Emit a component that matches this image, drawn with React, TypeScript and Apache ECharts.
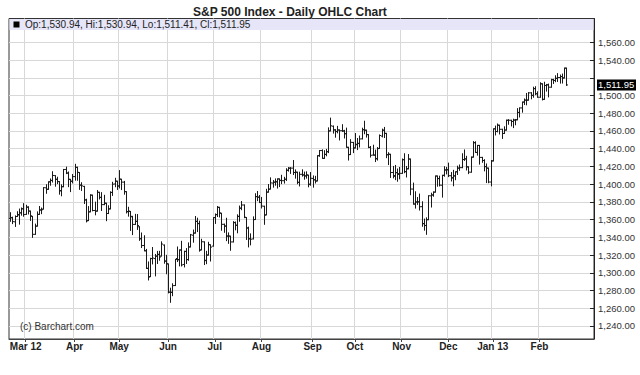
import React, { useEffect, useRef } from "react";
import * as echarts from "echarts";

// ---- data ----
const monthDays: [string, number[]][] = [
  ["2012-02", [21, 22, 23, 24, 27, 28, 29]],
  ["2012-03", [1, 2, 5, 6, 7, 8, 9, 12, 13, 14, 15, 16, 19, 20, 21, 22, 23, 26, 27, 28, 29, 30]],
  ["2012-04", [2, 3, 4, 5, 9, 10, 11, 12, 13, 16, 17, 18, 19, 20, 23, 24, 25, 26, 27, 30]],
  ["2012-05", [1, 2, 3, 4, 7, 8, 9, 10, 11, 14, 15, 16, 17, 18, 21, 22, 23, 24, 25, 29, 30, 31]],
  ["2012-06", [1, 4, 5, 6, 7, 8, 11, 12, 13, 14, 15, 18, 19, 20, 21, 22, 25, 26, 27, 28, 29]],
  ["2012-07", [2, 3, 5, 6, 9, 10, 11, 12, 13, 16, 17, 18, 19, 20, 23, 24, 25, 26, 27, 30, 31]],
  ["2012-08", [1, 2, 3, 6, 7, 8, 9, 10, 13, 14, 15, 16, 17, 20, 21, 22, 23, 24, 27, 28, 29, 30, 31]],
  ["2012-09", [4, 5, 6, 7, 10, 11, 12, 13, 14, 17, 18, 19, 20, 21, 24, 25, 26, 27, 28]],
  ["2012-10", [1, 2, 3, 4, 5, 8, 9, 10, 11, 12, 15, 16, 17, 18, 19, 22, 23, 24, 25, 26, 31]],
  ["2012-11", [1, 2, 5, 6, 7, 8, 9, 12, 13, 14, 15, 16, 19, 20, 21, 23, 26, 27, 28, 29, 30]],
  ["2012-12", [3, 4, 5, 6, 7, 10, 11, 12, 13, 14, 17, 18, 19, 20, 21, 24, 26, 27, 28, 31]],
  ["2013-01", [2, 3, 4, 7, 8, 9, 10, 11, 14, 15, 16, 17, 18, 22, 23, 24, 25, 28, 29, 30, 31]],
  ["2013-02", [1, 4, 5, 6, 7, 8, 11, 12, 13, 14, 15, 19, 20]],
];

// [open, high, low, close]
const ohlc: number[][] = [
  // Feb 2012
  [1361.2, 1367.8, 1358.1, 1362.2], [1362.1, 1362.7, 1355.5, 1357.7], [1357.5, 1364.2, 1352.3, 1363.5],
  [1363.5, 1368.9, 1363.5, 1365.7], [1365.2, 1371.9, 1354.9, 1367.6], [1367.6, 1373.1, 1365.0, 1372.2],
  [1372.2, 1378.0, 1363.8, 1365.7],
  // Mar
  [1365.9, 1376.2, 1365.9, 1374.1], [1374.1, 1374.5, 1366.4, 1369.6], [1369.6, 1369.6, 1359.1, 1364.3],
  [1363.6, 1363.6, 1340.0, 1343.4], [1343.4, 1354.9, 1343.4, 1352.6], [1352.7, 1368.7, 1352.7, 1365.9],
  [1365.9, 1374.8, 1365.9, 1370.9], [1370.8, 1373.0, 1366.7, 1371.1], [1371.9, 1396.0, 1371.9, 1396.0],
  [1395.9, 1399.4, 1389.7, 1394.3], [1394.2, 1402.6, 1394.2, 1402.6], [1402.6, 1405.9, 1398.8, 1404.2],
  [1404.2, 1414.0, 1402.4, 1409.8], [1409.6, 1409.6, 1397.7, 1405.5], [1405.5, 1407.8, 1400.6, 1402.9],
  [1402.9, 1402.9, 1388.7, 1392.8], [1392.3, 1399.2, 1386.9, 1397.1], [1397.1, 1416.6, 1397.1, 1416.5],
  [1416.6, 1419.2, 1411.9, 1412.5], [1412.5, 1413.7, 1397.2, 1405.5], [1405.4, 1405.4, 1391.6, 1403.3],
  [1403.3, 1410.9, 1401.4, 1408.5],
  // Apr
  [1408.5, 1422.4, 1404.5, 1419.0], [1418.9, 1419.2, 1404.4, 1413.4], [1413.1, 1413.1, 1394.1, 1399.0],
  [1398.8, 1401.6, 1392.9, 1398.1], [1397.5, 1397.5, 1378.2, 1382.2], [1382.2, 1383.0, 1357.4, 1358.6],
  [1358.9, 1374.7, 1358.9, 1368.7], [1368.8, 1388.1, 1368.8, 1387.6], [1387.6, 1387.6, 1369.9, 1370.3],
  [1370.3, 1379.7, 1365.4, 1369.6], [1369.6, 1392.8, 1369.6, 1390.8], [1390.8, 1390.8, 1383.3, 1385.1],
  [1385.1, 1390.4, 1370.3, 1376.9], [1376.9, 1387.4, 1376.9, 1378.5], [1378.5, 1378.5, 1358.8, 1366.9],
  [1366.9, 1375.6, 1366.8, 1372.0], [1372.1, 1391.4, 1372.1, 1390.7], [1390.6, 1402.1, 1387.3, 1400.0],
  [1400.2, 1406.6, 1397.1, 1403.4], [1403.3, 1403.3, 1394.0, 1397.9],
  // May
  [1397.9, 1415.3, 1395.7, 1405.8], [1405.5, 1405.5, 1393.9, 1402.3], [1402.3, 1403.1, 1388.7, 1391.6],
  [1391.5, 1391.5, 1367.5, 1369.1], [1368.8, 1373.9, 1363.9, 1369.6], [1369.2, 1369.2, 1347.8, 1363.7],
  [1363.2, 1363.7, 1343.1, 1354.6], [1354.6, 1365.9, 1354.6, 1358.0], [1358.1, 1365.7, 1348.9, 1353.4],
  [1351.9, 1351.9, 1336.6, 1338.4], [1338.4, 1344.9, 1328.5, 1330.7], [1330.8, 1341.8, 1324.8, 1324.8],
  [1324.8, 1326.4, 1304.9, 1304.9], [1305.1, 1312.2, 1291.9, 1295.2], [1295.7, 1316.4, 1295.7, 1316.0],
  [1316.1, 1328.5, 1310.0, 1316.6], [1316.0, 1320.7, 1296.5, 1318.9], [1318.7, 1324.1, 1310.5, 1320.7],
  [1320.8, 1324.2, 1314.2, 1317.8], [1318.9, 1334.9, 1318.9, 1332.4], [1331.3, 1331.3, 1310.8, 1313.3],
  [1313.1, 1319.7, 1298.9, 1310.3],
  // Jun
  [1309.9, 1309.9, 1277.3, 1278.0], [1278.3, 1282.6, 1266.7, 1278.2], [1277.8, 1287.6, 1274.2, 1285.5],
  [1285.6, 1315.1, 1285.6, 1315.1], [1316.1, 1329.1, 1312.7, 1315.0], [1314.6, 1325.8, 1307.8, 1325.7],
  [1325.7, 1335.5, 1307.7, 1308.9], [1309.4, 1324.3, 1306.6, 1324.2], [1324.0, 1327.3, 1310.5, 1314.9],
  [1314.9, 1333.7, 1314.1, 1329.1], [1329.2, 1343.3, 1329.2, 1342.8], [1342.4, 1348.2, 1334.5, 1344.8],
  [1344.8, 1363.5, 1344.8, 1358.0], [1358.0, 1361.6, 1346.5, 1355.7], [1355.4, 1358.3, 1324.4, 1325.5],
  [1325.9, 1337.8, 1325.9, 1335.0], [1334.9, 1334.9, 1309.3, 1313.7], [1314.1, 1324.2, 1310.3, 1320.0],
  [1320.0, 1334.4, 1320.0, 1331.9], [1331.5, 1331.5, 1313.3, 1329.0], [1330.1, 1362.2, 1330.1, 1362.2],
  // Jul
  [1362.3, 1366.4, 1355.7, 1365.5], [1365.8, 1374.8, 1363.5, 1374.0], [1373.7, 1373.9, 1363.0, 1367.6],
  [1367.1, 1367.1, 1348.0, 1354.7], [1354.7, 1354.9, 1345.7, 1352.5], [1352.9, 1361.5, 1336.3, 1341.5],
  [1341.4, 1345.0, 1333.2, 1341.5], [1341.3, 1341.3, 1325.4, 1334.8], [1334.8, 1357.7, 1334.8, 1356.8],
  [1356.5, 1357.3, 1348.5, 1353.6], [1353.7, 1365.4, 1345.1, 1363.7], [1363.6, 1375.3, 1358.1, 1372.8],
  [1373.0, 1380.4, 1371.2, 1376.5], [1376.5, 1376.5, 1362.2, 1362.7], [1362.3, 1362.3, 1337.6, 1350.5],
  [1350.5, 1351.5, 1329.2, 1338.3], [1338.4, 1343.9, 1331.5, 1337.9], [1338.2, 1363.1, 1338.2, 1360.0],
  [1360.1, 1389.2, 1360.1, 1386.0], [1385.9, 1391.7, 1381.4, 1385.3], [1385.3, 1387.2, 1379.2, 1379.3],
  // Aug
  [1379.3, 1385.0, 1373.1, 1375.3], [1375.1, 1375.1, 1354.7, 1365.0], [1365.4, 1394.2, 1365.4, 1391.0],
  [1391.0, 1399.6, 1391.0, 1394.2], [1394.5, 1407.1, 1394.5, 1401.4], [1401.2, 1404.1, 1396.6, 1402.2],
  [1402.3, 1405.9, 1398.8, 1402.8], [1402.6, 1405.9, 1395.6, 1405.9], [1405.9, 1405.9, 1397.3, 1404.1],
  [1404.4, 1410.0, 1400.6, 1403.9], [1403.9, 1407.7, 1401.2, 1405.5], [1405.6, 1417.4, 1404.2, 1415.5],
  [1415.8, 1418.7, 1414.7, 1418.2], [1417.9, 1418.7, 1412.1, 1418.1], [1418.1, 1426.7, 1410.9, 1413.2],
  [1413.1, 1416.1, 1406.8, 1413.5], [1413.5, 1413.5, 1400.5, 1402.1], [1402.0, 1413.5, 1398.0, 1411.1],
  [1411.1, 1416.2, 1409.1, 1410.4], [1410.4, 1413.6, 1405.6, 1409.3], [1409.3, 1413.9, 1406.8, 1410.5],
  [1410.1, 1410.1, 1397.0, 1399.5], [1400.1, 1413.1, 1398.8, 1406.6],
  // Sep
  [1406.5, 1409.3, 1396.6, 1404.9], [1404.9, 1408.8, 1401.3, 1403.4], [1403.7, 1432.1, 1403.7, 1432.1],
  [1432.1, 1437.9, 1431.4, 1437.9], [1437.9, 1438.7, 1429.1, 1429.1], [1429.1, 1437.8, 1429.1, 1433.6],
  [1433.6, 1439.2, 1432.0, 1436.6], [1436.6, 1463.5, 1435.6, 1460.0], [1460.1, 1474.5, 1460.1, 1465.8],
  [1465.4, 1465.6, 1457.6, 1461.2], [1461.2, 1461.5, 1453.0, 1459.3], [1459.5, 1465.2, 1457.9, 1461.1],
  [1461.1, 1461.2, 1449.9, 1460.3], [1460.3, 1467.1, 1459.5, 1460.2], [1459.8, 1460.7, 1452.1, 1456.9],
  [1456.9, 1463.2, 1441.6, 1441.6], [1441.6, 1441.6, 1427.2, 1433.3], [1433.4, 1450.2, 1433.4, 1447.2],
  [1447.1, 1447.1, 1435.6, 1440.7],
  // Oct
  [1440.9, 1457.1, 1440.9, 1444.5], [1445.0, 1451.5, 1439.0, 1445.8], [1446.1, 1454.3, 1442.0, 1451.0],
  [1451.1, 1463.1, 1451.1, 1461.4], [1461.4, 1471.0, 1456.9, 1460.9], [1460.9, 1460.9, 1453.1, 1455.9],
  [1455.9, 1455.9, 1441.2, 1441.5], [1441.5, 1442.5, 1430.6, 1432.6], [1432.8, 1443.9, 1432.8, 1432.8],
  [1432.8, 1438.4, 1425.5, 1428.6], [1428.8, 1441.3, 1427.2, 1440.1], [1440.3, 1455.5, 1440.3, 1454.9],
  [1454.2, 1462.1, 1453.3, 1460.9], [1460.9, 1464.0, 1452.6, 1457.3], [1457.3, 1457.3, 1429.9, 1433.2],
  [1433.2, 1435.5, 1422.1, 1433.8], [1433.7, 1433.7, 1407.6, 1413.1], [1413.2, 1420.0, 1407.1, 1408.8],
  [1409.7, 1421.1, 1405.1, 1413.0], [1413.0, 1417.1, 1403.3, 1411.9], [1411.0, 1418.8, 1406.0, 1412.2],
  // Nov
  [1412.2, 1428.4, 1412.2, 1427.6], [1427.6, 1434.3, 1412.9, 1414.2], [1414.0, 1419.9, 1408.1, 1417.3],
  [1417.3, 1433.4, 1417.3, 1428.4], [1428.3, 1428.3, 1388.1, 1394.5], [1394.5, 1401.2, 1377.5, 1377.5],
  [1377.6, 1391.4, 1373.0, 1379.9], [1379.9, 1384.9, 1377.2, 1380.0], [1380.0, 1388.8, 1370.8, 1374.5],
  [1374.6, 1380.1, 1352.5, 1355.5], [1355.4, 1360.6, 1348.1, 1353.3], [1353.4, 1362.0, 1343.4, 1359.9],
  [1359.9, 1386.9, 1359.9, 1386.9], [1386.8, 1389.8, 1374.2, 1387.8], [1387.8, 1391.3, 1386.4, 1391.0],
  [1391.0, 1409.2, 1391.0, 1409.2], [1409.2, 1409.2, 1397.7, 1406.3], [1406.3, 1409.0, 1398.0, 1398.9],
  [1398.8, 1410.0, 1385.4, 1409.9], [1410.0, 1419.7, 1409.0, 1416.0], [1416.0, 1418.9, 1411.6, 1416.2],
  // Dec
  [1416.3, 1423.7, 1408.5, 1409.5], [1409.5, 1413.1, 1403.6, 1407.1], [1407.1, 1415.6, 1398.2, 1409.3],
  [1409.4, 1413.9, 1405.0, 1413.9], [1414.0, 1420.3, 1410.9, 1418.1], [1418.1, 1421.6, 1415.6, 1418.6],
  [1418.6, 1434.3, 1418.6, 1427.8], [1427.8, 1438.6, 1426.8, 1428.5], [1428.5, 1431.4, 1416.0, 1419.5],
  [1419.5, 1419.5, 1411.9, 1413.6], [1413.5, 1430.7, 1413.5, 1430.4], [1430.5, 1448.0, 1430.5, 1446.8],
  [1446.8, 1447.8, 1435.8, 1435.8], [1435.8, 1443.7, 1432.8, 1443.7], [1443.7, 1443.7, 1422.6, 1430.2],
  [1430.2, 1430.2, 1424.7, 1426.7], [1426.7, 1427.6, 1415.0, 1419.8], [1419.8, 1422.8, 1401.8, 1418.1],
  [1418.1, 1418.1, 1401.6, 1402.4], [1402.4, 1426.7, 1398.1, 1426.2],
  // Jan 2013
  [1426.2, 1462.4, 1426.2, 1462.4], [1462.4, 1465.5, 1455.5, 1459.4], [1459.4, 1467.9, 1459.0, 1466.5],
  [1466.5, 1466.5, 1456.6, 1461.9], [1461.9, 1461.9, 1451.6, 1457.2], [1457.2, 1464.7, 1457.2, 1461.0],
  [1461.0, 1472.3, 1461.0, 1472.1], [1472.1, 1472.8, 1467.6, 1472.1], [1472.1, 1472.1, 1465.7, 1470.7],
  [1470.7, 1473.3, 1463.8, 1472.3], [1472.3, 1473.0, 1467.0, 1472.6], [1472.6, 1485.2, 1472.6, 1480.9],
  [1480.9, 1486.0, 1475.8, 1486.0], [1486.0, 1492.6, 1481.2, 1492.6], [1492.6, 1496.1, 1489.9, 1494.8],
  [1494.8, 1502.3, 1489.5, 1494.8], [1494.8, 1503.3, 1494.8, 1503.0], [1503.0, 1503.2, 1496.3, 1500.2],
  [1500.2, 1509.4, 1498.1, 1507.8], [1507.8, 1509.9, 1501.0, 1502.0], [1502.0, 1504.2, 1498.0, 1498.1],
  // Feb 2013
  [1498.1, 1514.4, 1498.1, 1513.2], [1513.2, 1513.2, 1495.0, 1495.7], [1495.7, 1515.0, 1495.7, 1511.3],
  [1511.3, 1512.5, 1505.0, 1512.1], [1512.1, 1512.9, 1498.5, 1509.4], [1509.4, 1518.3, 1509.4, 1517.9],
  [1517.9, 1518.3, 1513.6, 1517.0], [1517.0, 1522.3, 1515.6, 1519.4], [1519.4, 1524.7, 1515.9, 1520.3],
  [1520.3, 1523.1, 1514.0, 1521.4], [1521.4, 1524.2, 1514.1, 1519.8], [1519.8, 1530.9, 1519.8, 1530.94],
  [1530.94, 1530.94, 1511.41, 1511.95],
];

const yTickValues = [1240, 1260, 1280, 1300, 1320, 1340, 1360, 1380, 1400, 1420, 1440, 1460, 1480, 1500, 1520, 1540, 1560];
const yLabelValues = [1240, 1260, 1280, 1300, 1320, 1340, 1360, 1380, 1400, 1420, 1440, 1460, 1480, 1500, 1540, 1560];
const monthNames = ["Jan", "Feb", "Mar", "Apr", "May", "Jun", "Jul", "Aug", "Sep", "Oct", "Nov", "Dec"];
const emptySlots = 12;
const titleText = "S&P 500 Index - Daily OHLC Chart";
const copyrightText = "(c) Barchart.com";

const fmt = (v: number) =>
  v.toLocaleString("en-US", { minimumFractionDigits: 2, maximumFractionDigits: 2 });

export default function App() {
  const ref = useRef<HTMLDivElement>(null);

  useEffect(() => {
    document.body.style.margin = "0";
    if (!ref.current) return;
    const chart = echarts.init(ref.current, undefined, { renderer: "svg" });

    const dates: string[] = [];
    monthDays.forEach(([m, days]) => days.forEach((d) => dates.push(m + "-" + String(d).padStart(2, "0"))));
    const categories = dates.concat(Array.from({ length: emptySlots }, () => ""));

    // month starts (skip the first partial month)
    const monthStart: Record<number, string> = {};
    let prevMonth = dates[0].slice(0, 7);
    dates.forEach((d, i) => {
      const m = d.slice(0, 7);
      if (m !== prevMonth) {
        const mi = parseInt(d.slice(5, 7), 10) - 1;
        const yy = d.slice(2, 4);
        const first = Object.keys(monthStart).length === 0;
        monthStart[i] = monthNames[mi] + (mi === 0 || first ? " " + yy : "");
        prevMonth = m;
      }
    });
    const isMonthStart = (idx: number) => monthStart[idx] !== undefined;

    const last = ohlc[ohlc.length - 1];
    const legendText = `Op:${fmt(last[0])}, Hi:${fmt(last[1])}, Lo:${fmt(last[2])}, Cl:${fmt(last[3])}`;

    const font = "'Liberation Sans', Arial, sans-serif";

    chart.setOption({
      animation: false,
      backgroundColor: "#ffffff",
      title: {
        text: titleText,
        left: 188,
        top: 1,
        textStyle: { fontFamily: font, fontSize: 12, fontWeight: "bold", color: "#222" },
      },
      grid: {
        left: 9,
        right: 46,
        top: 18.5,
        bottom: 36,
        show: true,
        borderColor: "#333",
        borderWidth: 1,
        backgroundColor: "transparent",
      },
      xAxis: {
        type: "category",
        data: categories,
        boundaryGap: true,
        axisLine: { show: true, lineStyle: { color: "#444" } },
        axisTick: {
          show: true,
          alignWithLabel: true,
          length: 3,
          interval: (idx: number) => isMonthStart(idx),
          lineStyle: { color: "#444" },
        },
        axisLabel: {
          interval: (idx: number) => isMonthStart(idx),
          formatter: (_v: string, idx: number) => monthStart[idx] || "",
          fontFamily: font,
          fontSize: 10,
          fontWeight: "bold",
          color: "#222",
          margin: 2,
        },
        splitLine: {
          show: true,
          interval: (idx: number) => isMonthStart(idx),
          lineStyle: { color: "#d8d8d8", width: 1 },
        },
      },
      yAxis: {
        type: "value",
        position: "right",
        min: 1225.3,
        max: 1586.9,
        axisLine: { show: true, lineStyle: { color: "#222" } },
        axisTick: {
          show: true,
          inside: true,
          length: 4,
          customValues: yTickValues,
          lineStyle: { color: "#222" },
        },
        axisLabel: {
          customValues: yLabelValues,
          formatter: (v: number) => fmt(v),
          fontFamily: font,
          fontSize: 9.5,
          color: "#333",
          margin: 4,
        },
        splitLine: { show: true, lineStyle: { color: "#d8d8d8", width: 1 } },
      },
      series: [
        {
          type: "custom",
          data: ohlc.map((d, i) => [i, d[0], d[1], d[2], d[3]]),
          encode: { x: 0, y: [1, 2, 3, 4] },
          renderItem: (_params: any, api: any) => {
            const i = api.value(0);
            const pO = api.coord([i, api.value(1)]);
            const pH = api.coord([i, api.value(2)]);
            const pL = api.coord([i, api.value(3)]);
            const pC = api.coord([i, api.value(4)]);
            const x = Math.round(pH[0]) + 0.5;
            const st = { stroke: "#1a1a1a", lineWidth: 1 };
            return {
              type: "group",
              children: [
                { type: "line", shape: { x1: x, y1: pH[1] - 0.5, x2: x, y2: pL[1] + 0.5 }, style: st },
                { type: "line", shape: { x1: x - 1.5, y1: pO[1], x2: x, y2: pO[1] }, style: st },
                { type: "line", shape: { x1: x, y1: pC[1], x2: x + 1.5, y2: pC[1] }, style: st },
              ],
            };
          },
          z: 3,
        },
      ],
    });

    const lastY = chart.convertToPixel({ yAxisIndex: 0 }, last[3]) as number;

    chart.setOption({
      graphic: [
        {
          type: "rect",
          shape: { x: 9.5, y: 19, width: 584, height: 11 },
          style: { fill: "#e6e6f8" },
          z: 10,
        },
        {
          type: "rect",
          shape: { x: 13.5, y: 21.5, width: 6, height: 6 },
          style: { fill: "#000" },
          z: 11,
        },
        {
          type: "text",
          x: 25,
          y: 24.5,
          style: {
            text: legendText,
            fill: "#222",
            font: `10px ${font}`,
            textVerticalAlign: "middle",
          },
          z: 11,
        },
        {
          type: "text",
          x: 20,
          y: 326,
          style: {
            text: copyrightText,
            fill: "#333",
            font: `10px ${font}`,
            textVerticalAlign: "middle",
          },
          z: 11,
        },
        {
          type: "rect",
          shape: { x: 597, y: lastY - 5.5, width: 39, height: 11 },
          style: { fill: "#000" },
          z: 12,
        },
        {
          type: "text",
          x: 598,
          y: lastY,
          style: {
            text: fmt(last[3]),
            fill: "#fff",
            font: `9.5px ${font}`,
            textVerticalAlign: "middle",
          },
          z: 13,
        },
      ],
    });

    return () => chart.dispose();
  }, []);

  return (
    <div
      ref={ref}
      style={{ position: "fixed", left: 0, top: 0, width: 640, height: 375 }}
    />
  );
}
